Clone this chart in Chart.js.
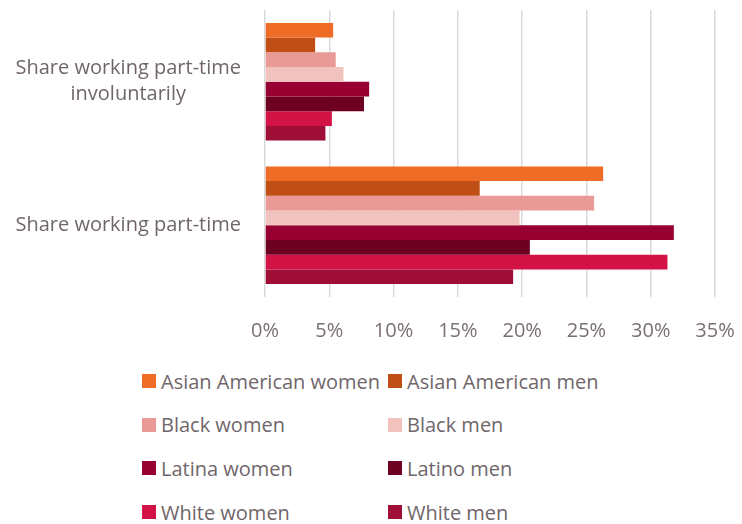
<!DOCTYPE html>
<html>
<head>
<meta charset="utf-8">
<script src="https://cdn.jsdelivr.net/npm/chart.js@4.4.1/dist/chart.umd.min.js"></script>
<style>
  html, body {
    margin: 0;
    padding: 0;
    background: #ffffff;
  }
  #wrap {
    position: relative;
    width: 742px;
    height: 524px;
    font-family: "Open Sans", sans-serif;
  }
  #chartBox {
    position: absolute;
    left: 0;
    top: 0;
    width: 742px;
    height: 365px;
  }
  #legend {
    position: absolute;
    left: 142px;
    top: 367px;
    display: grid;
    grid-template-columns: 246px 260px;
    grid-auto-rows: 43.7px;
    font-size: 20px;
    color: #70666a;
  }
  .legend-item {
    display: flex;
    align-items: center;
    height: 28px;
    white-space: nowrap;
  }
  .legend-box {
    width: 14px;
    height: 14px;
    margin-right: 5px;
    flex: none;
  }
</style>
</head>
<body>
<div id="wrap">
  <div id="chartBox"><canvas id="partTimeChart"></canvas></div>
  <div id="legend"></div>
</div>
<script>
const categories = [
  ["Share working part-time", "involuntarily"],
  "Share working part-time"
];

const seriesNames = [
  "Asian American women",
  "Asian American men",
  "Black women",
  "Black men",
  "Latina women",
  "Latino men",
  "White women",
  "White men"
];

// percent values: [involuntarily, part-time]
const asianWomen = [5.3, 26.3];
const asianMen = [3.9, 16.7];
const blackWomen = [5.5, 25.6];
const blackMen = [6.1, 19.8];
const latinaWomen = [8.1, 31.8];
const latinoMen = [7.7, 20.6];
const whiteWomen = [5.2, 31.3];
const whiteMen = [4.7, 19.3];

const seriesValues = [asianWomen, asianMen, blackWomen, blackMen, latinaWomen, latinoMen, whiteWomen, whiteMen];

const seriesColors = [
  "#ee6c26",
  "#c04f15",
  "#ea9a96",
  "#f2c2bf",
  "#970030",
  "#6e0021",
  "#d31245",
  "#9e0e36"
];

const xTicks = [0, 5, 10, 15, 20, 25, 30, 35];

const textColor = "#70666a";
const fontFamily = "'Open Sans', sans-serif";

function buildDatasets() {
  return seriesNames.map((name, i) => ({
    label: name,
    data: seriesValues[i],
    backgroundColor: seriesColors[i],
    borderWidth: 0,
    categoryPercentage: 0.82,
    barPercentage: 1
  }));
}

function renderLegend(chart) {
  const container = document.getElementById("legend");
  container.innerHTML = "";

  chart.data.datasets.forEach(ds => {
    const item = document.createElement("div");
    item.className = "legend-item";
    item.innerHTML = `
      <span class="legend-box" style="background:${ds.backgroundColor}"></span>
      <span>${ds.label}</span>
    `;
    container.appendChild(item);
  });
}

const ctx = document.getElementById("partTimeChart");

const chart = new Chart(ctx, {
  type: "bar",
  data: {
    labels: categories,
    datasets: buildDatasets()
  },
  options: {
    indexAxis: "y",
    responsive: true,
    maintainAspectRatio: false,
    animation: false,
    layout: {
      padding: { top: 10, right: 27, bottom: 0, left: 0 }
    },
    plugins: {
      legend: { display: false },
      tooltip: { enabled: false }
    },
    scales: {
      x: {
        min: 0,
        max: 35,
        afterBuildTicks: scale => {
          scale.ticks = xTicks.map(v => ({ value: v }));
        },
        afterFit: scale => {
          scale.paddingLeft = 0;
          scale.paddingRight = 0;
        },
        border: { display: false },
        grid: {
          color: "#d9d9d9",
          lineWidth: 1.5,
          drawTicks: false
        },
        ticks: {
          padding: 22,
          color: "#7a6f72",
          font: { family: fontFamily, size: 20 },
          callback: value => value + "%"
        }
      },
      y: {
        afterFit: scale => {
          scale.width = 265;
          scale.paddingTop = 0;
          scale.paddingBottom = 0;
        },
        border: { display: false },
        grid: { display: false, drawTicks: false },
        ticks: {
          padding: 24,
          crossAlign: "center",
          color: textColor,
          font: { family: fontFamily, size: 20, lineHeight: 1.3 }
        }
      }
    }
  }
});

renderLegend(chart);
</script>
</body>
</html>
